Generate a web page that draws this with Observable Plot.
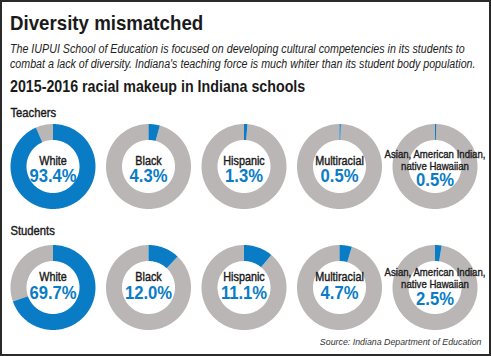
<!DOCTYPE html>
<html><head><meta charset="utf-8">
<script src="https://cdn.jsdelivr.net/npm/d3@7"></script>
<script src="https://cdn.jsdelivr.net/npm/@observablehq/plot@0.6"></script>
<style>
html,body{margin:0;padding:0;background:#fff;}
#wrap{position:relative;width:491px;height:356px;overflow:hidden;background:#fff;font-family:"Liberation Sans",Arial,sans-serif;color:#1a1a1a;}
#border{position:absolute;left:0;top:0;width:491px;height:356px;box-sizing:border-box;border:2px solid #2a2a2a;pointer-events:none;}
.nar{transform:scaleX(0.89);transform-origin:0 0;}
#title{position:absolute;left:10px;top:12px;font-size:21px;line-height:21px;font-weight:bold;white-space:nowrap;}
#sub{position:absolute;left:10px;top:41.5px;font-size:12px;font-style:italic;line-height:15px;white-space:nowrap;color:#222;}
#head{position:absolute;left:10px;top:79.2px;font-size:16px;line-height:16px;font-weight:bold;white-space:nowrap;}
#chart{position:absolute;left:0;top:100px;}
</style></head>
<body><div id="wrap">
<div id="title" class="nar">Diversity mismatched</div>
<div id="sub" class="nar">The IUPUI School of Education is focused on developing cultural competencies in its students to<br>combat a lack of diversity. Indiana's teaching force is much whiter than its student body population.</div>
<div id="head" class="nar">2015-2016 racial makeup in Indiana schools</div>
<div id="chart"></div>
<div id="border"></div>
</div>
<script>
const rows = ["Teachers", "Students"];
const groups = ["White", "Black", "Hispanic", "Multiracial", "Asian, American Indian,\nnative Hawaiian"];
const teachers = [93.4, 4.3, 1.3, 0.5, 0.5];
const students = [69.7, 12.0, 11.1, 4.7, 2.5];
const source = "Source: Indiana Department of Education";

const values = [teachers, students];
const colX = i => 52.5 + i * 95.5;
const rowY = [166, 287];
const rowLabelY = [116, 234];
const labelDy = [-2, -6.5], pctDy = [15.5, 11];
const multiDy = [3.5, 0.5], multiPctDy = [19.7, 17];
const R = 42.5, r = 26.5;
const BLUE = "#0a7cc6", GRAY = "#bab6b6";

function ring(cx, cy, a0, a1, id) {
  const pts = [];
  const n = Math.max(2, Math.ceil((a1 - a0) / 0.02));
  for (let k = 0; k <= n; k++) {
    const a = a0 + (a1 - a0) * k / n;
    pts.push({id, x: cx + R * Math.sin(a), y: cy - R * Math.cos(a)});
  }
  for (let k = n; k >= 0; k--) {
    const a = a0 + (a1 - a0) * k / n;
    pts.push({id, x: cx + r * Math.sin(a), y: cy - r * Math.cos(a)});
  }
  return pts;
}

const bluePts = [], grayPts = [], labels = [], multiLabels = [], pcts = [], rowLabels = [];
rows.forEach((row, ri) => {
  rowLabels.push({x: 10, y: rowLabelY[ri], text: row});
  values[ri].forEach((v, gi) => {
    const cx = colX(gi), cy = rowY[ri];
    const a = v / 100 * 2 * Math.PI;
    bluePts.push(...ring(cx, cy, 0, a, row + gi + "b"));
    grayPts.push(...ring(cx, cy, a, 2 * Math.PI, row + gi + "g"));
    const multi = groups[gi].includes("\n");
    if (multi) multiLabels.push({x: cx, y: cy + multiDy[ri], text: groups[gi]});
    else labels.push({x: cx, y: cy + labelDy[ri], text: groups[gi]});
    pcts.push({x: cx, y: cy + (multi ? multiPctDy[ri] : pctDy[ri]), text: v.toFixed(1) + "%"});
  });
});
const srcData = [{x: 481, y: 344.5, text: source}];

const ff = '"Liberation Sans",Arial,sans-serif';
const INK = "#1a1a1a";
const plot = Plot.plot({
  width: 491, height: 256,
  margin: 0,
  x: {domain: [0, 491], range: [0, 491], axis: null},
  y: {domain: [100, 356], range: [0, 256], axis: null},
  style: {fontFamily: ff, background: "transparent"},
  marks: [
    Plot.line(grayPts, {x: "x", y: "y", z: "id", fill: GRAY, stroke: "none", curve: "linear"}),
    Plot.line(bluePts, {x: "x", y: "y", z: "id", fill: BLUE, stroke: "none", curve: "linear"}),
    Plot.text(rowLabels, {x: "x", y: "y", text: "text", textAnchor: "start", lineAnchor: "bottom", fontSize: 12.5, fill: INK, stroke: INK, strokeWidth: 0.4}),
    Plot.text(labels, {x: "x", y: "y", text: "text", lineAnchor: "bottom", fontSize: 12, fill: INK, stroke: INK, strokeWidth: 0.4}),
    Plot.text(multiLabels, {x: "x", y: "y", text: "text", lineAnchor: "bottom", fontSize: 10.7, lineHeight: 1.12, fill: INK, stroke: INK, strokeWidth: 0.35}),
    Plot.text(pcts, {x: "x", y: "y", text: "text", lineAnchor: "bottom", fontSize: 18.5, fontWeight: "bold", fill: BLUE}),
    Plot.text(srcData, {x: "x", y: "y", text: "text", textAnchor: "end", lineAnchor: "bottom", fontSize: 9.8, fontStyle: "italic", fill: "#333"})
  ]
});
d3.select(plot).selectAll("text").each(function() {
  const t = this.getAttribute("transform");
  if (t && t.startsWith("translate")) this.setAttribute("transform", t + " scale(0.9,1)");
});
document.getElementById("chart").appendChild(plot);
</script>
</body></html>
